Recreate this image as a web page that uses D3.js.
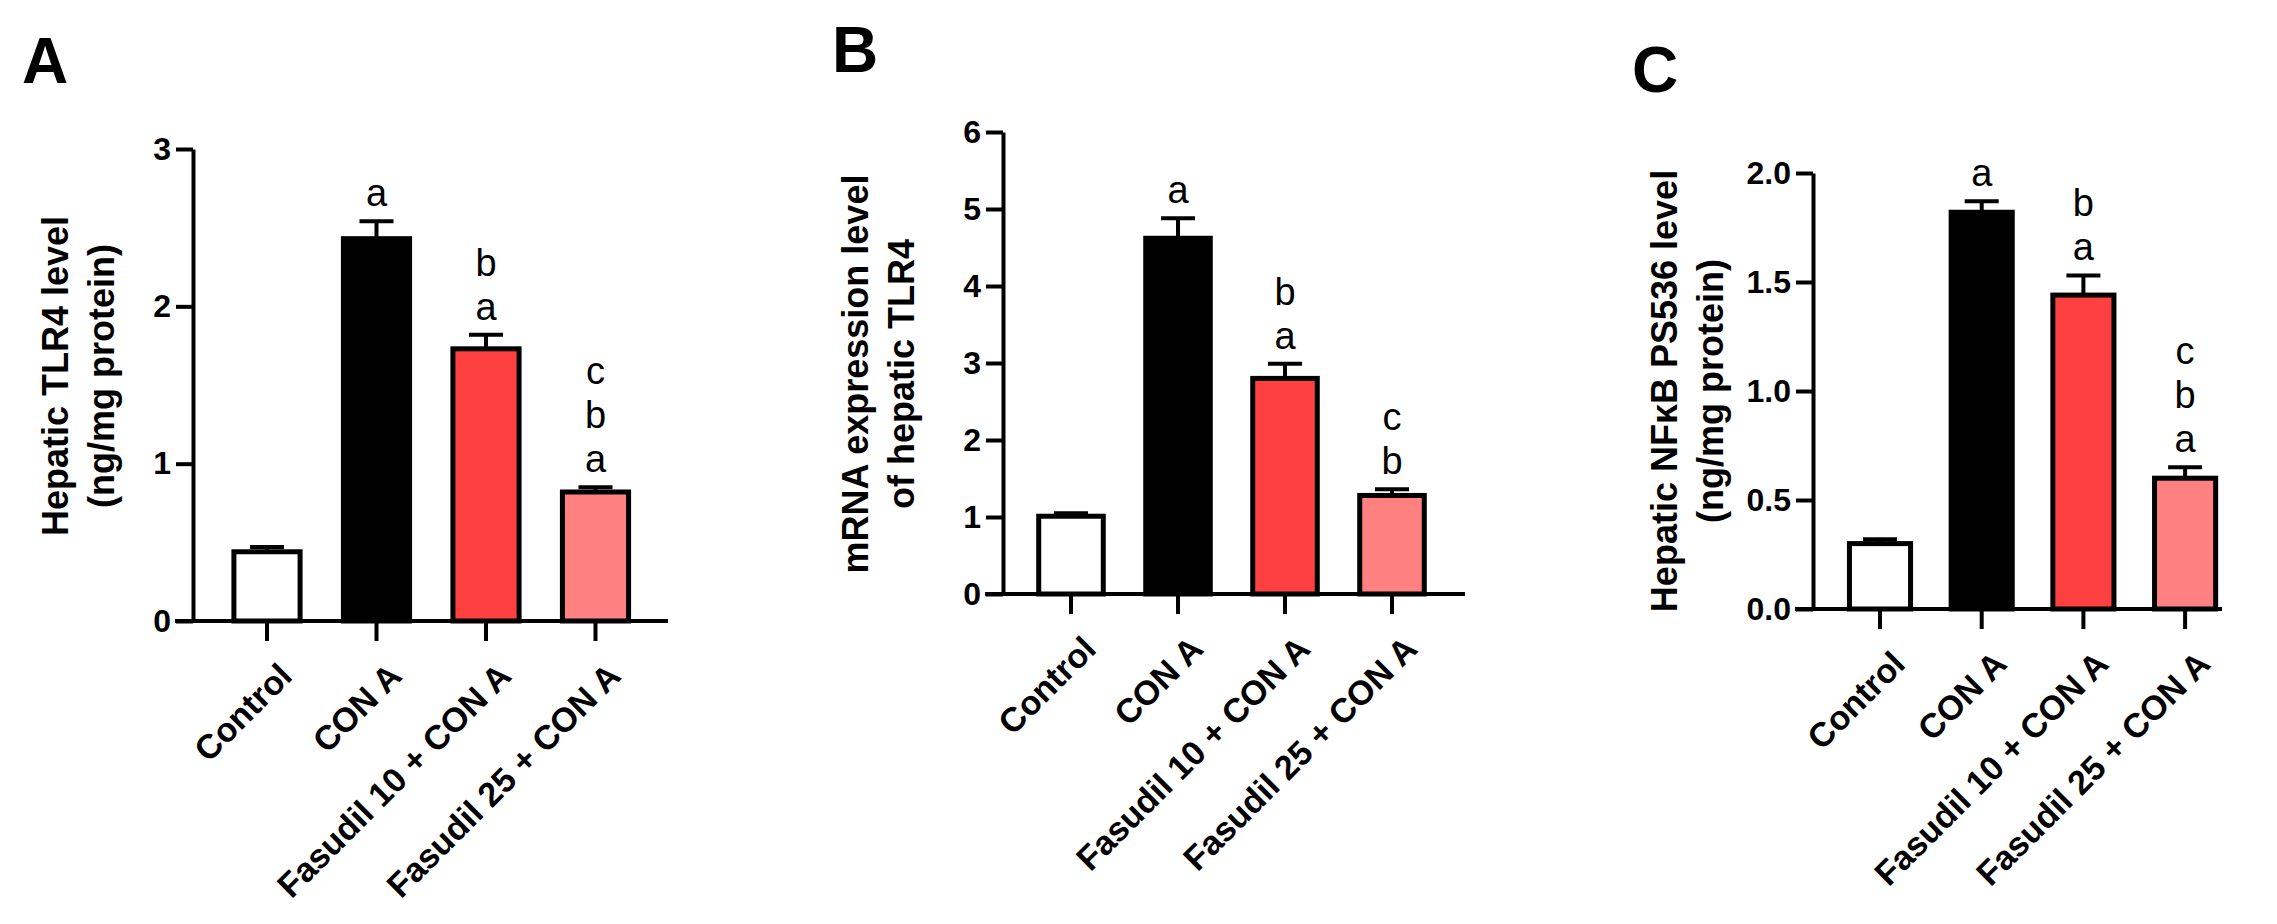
<!DOCTYPE html>
<html>
<head>
<meta charset="utf-8">
<script src="https://cdn.jsdelivr.net/npm/d3@7"></script>
<style>
  body { margin: 0; background: #fff; }
  svg { display: block; }
</style>
</head>
<body>
<div id="figure"></div>
<script>
// groups and colours shared by the three panels
const groups = ["Control", "CON A", "Fasudil 10 + CON A", "Fasudil 25 + CON A"];
const fills = ["#ffffff", "#000000", "#ff4040", "#ff8080"];

// A - hepatic TLR4 protein
const tlr4Means = [0.44, 2.43, 1.73, 0.82];
const tlr4Sem = [0.03, 0.11, 0.09, 0.03];
const tlr4Letters = [[], ["a"], ["a", "b"], ["a", "b", "c"]];
const tlr4Ticks = [0, 1, 2, 3];

// B - TLR4 mRNA
const mrnaMeans = [1.01, 4.62, 2.80, 1.28];
const mrnaSem = [0.04, 0.26, 0.19, 0.08];
const mrnaLetters = [[], ["a"], ["a", "b"], ["b", "c"]];
const mrnaTicks = [0, 1, 2, 3, 4, 5, 6];

// C - NFkB PS536
const nfkbMeans = [0.30, 1.82, 1.44, 0.60];
const nfkbSem = [0.02, 0.05, 0.09, 0.05];
const nfkbLetters = [[], ["a"], ["a", "b"], ["a", "b", "c"]];
const nfkbTicks = [0, 0.5, 1.0, 1.5, 2.0];

const width = 2277, height = 924;
const tickFont = "'Liberation Sans', Arial, sans-serif";
const letterFont = "'Liberation Sans Narrow', 'Arial Narrow', 'Liberation Sans', Arial, sans-serif";
const labelFont = "'Liberation Sans', Arial, sans-serif";

const svg = d3.select("#figure")
  .append("svg")
  .attr("width", width)
  .attr("height", height)
  .style("background", "#fff");

function drawPanel(p) {
  const g = svg.append("g");

  const y = d3.scaleLinear()
    .domain([0, d3.max(p.ticks)])
    .range([p.y0, p.yTop]);

  const x = d3.scaleBand()
    .domain(groups)
    .range([p.firstCenter - p.step / 2, p.firstCenter + p.step * 3.5])
    .paddingInner(0.35)
    .paddingOuter(0.175);

  // panel letter
  g.append("text")
    .attr("x", p.letterX)
    .attr("y", p.letterY)
    .style("font-family", labelFont)
    .style("font-weight", "bold")
    .style("font-size", "64px")
    .text(p.letter);

  // y title, two lines
  p.title.forEach(function(line, i) {
    g.append("text")
      .attr("transform", `translate(${p.titleX + i * 46}, ${p.titleMid}) rotate(-90)`)
      .attr("text-anchor", "middle")
      .style("font-family", labelFont)
      .style("font-weight", "bold")
      .style("font-size", "36px")
      .text(line);
  });

  // bars
  const data = groups.map(function(d, i) {
    return {group: d, mean: p.means[i], sem: p.sem[i], fill: fills[i], letters: p.letters[i]};
  });

  const sw = 5;
  g.selectAll(".bar")
    .data(data)
    .enter()
    .append("rect")
    .attr("x", function(d) { return x(d.group) + sw / 2; })
    .attr("width", x.bandwidth() - sw)
    .attr("y", function(d) { return y(d.mean); })
    .attr("height", function(d) { return y(0) - y(d.mean); })
    .style("fill", function(d) { return d.fill; })
    .style("stroke", "#000")
    .style("stroke-width", sw);

  // error bars (upper only)
  const cx = function(d) { return x(d.group) + x.bandwidth() / 2; };
  g.selectAll(".err")
    .data(data)
    .enter()
    .append("line")
    .attr("x1", cx)
    .attr("x2", cx)
    .attr("y1", function(d) { return y(d.mean); })
    .attr("y2", function(d) { return y(d.mean + d.sem); })
    .style("stroke", "#000")
    .style("stroke-width", 4);

  g.selectAll(".cap")
    .data(data)
    .enter()
    .append("line")
    .attr("x1", function(d) { return cx(d) - 17; })
    .attr("x2", function(d) { return cx(d) + 17; })
    .attr("y1", function(d) { return y(d.mean + d.sem); })
    .attr("y2", function(d) { return y(d.mean + d.sem); })
    .style("stroke", "#000")
    .style("stroke-width", 4);

  // significance letters, stacked from the bottom
  data.forEach(function(d) {
    d.letters.forEach(function(l, j) {
      g.append("text")
        .attr("x", cx(d))
        .attr("y", y(d.mean + d.sem) - 15 - j * 44)
        .attr("text-anchor", "middle")
        .style("font-family", letterFont)
        .style("font-size", "38px")
        .text(l);
    });
  });

  // y axis
  const yAxis = g.append("g")
    .attr("transform", `translate(${p.axisX}, 0)`)
    .call(d3.axisLeft(y).tickValues(p.ticks).tickSize(17).tickSizeOuter(0).tickPadding(5).tickFormat(d3.format(p.fmt)));

  yAxis.selectAll("path, line").style("stroke", "#000").style("stroke-width", 4);
  yAxis.selectAll("text")
    .style("font-family", tickFont)
    .style("font-weight", "bold")
    .style("font-size", "32px")
    .style("fill", "#000");

  // x axis, line runs a bit past the y axis like the original
  const xAxis = g.append("g")
    .attr("transform", `translate(0, ${p.y0})`)
    .call(d3.axisBottom(x).tickSize(20).tickSizeOuter(0));

  xAxis.select(".domain").remove();
  xAxis.append("line")
    .attr("x1", p.axisX - 18)
    .attr("x2", p.xEnd)
    .style("stroke", "#000")
    .style("stroke-width", 4);

  xAxis.selectAll(".tick line").style("stroke", "#000").style("stroke-width", 4);
  xAxis.selectAll(".tick text")
    .attr("x", 0)
    .attr("y", 0)
    .attr("dy", null)
    .attr("transform", "translate(27, 57) rotate(-45)")
    .attr("text-anchor", "end")
    .style("font-family", labelFont)
    .style("font-weight", "bold")
    .style("font-size", "34px")
    .style("fill", "#000");
}

drawPanel({
  letter: "A", letterX: 22, letterY: 83,
  title: ["Hepatic TLR4 level", "(ng/mg protein)"], titleX: 68, titleMid: 376,
  means: tlr4Means, sem: tlr4Sem, letters: tlr4Letters, ticks: tlr4Ticks, fmt: "d",
  axisX: 193, y0: 621, yTop: 149, firstCenter: 267, step: 109.5, xEnd: 668
});

drawPanel({
  letter: "B", letterX: 832, letterY: 72,
  title: ["mRNA expression level", "of hepatic TLR4"], titleX: 868, titleMid: 374,
  means: mrnaMeans, sem: mrnaSem, letters: mrnaLetters, ticks: mrnaTicks, fmt: "d",
  axisX: 1003, y0: 594, yTop: 132, firstCenter: 1071, step: 107, xEnd: 1465
});

drawPanel({
  letter: "C", letterX: 1632, letterY: 92,
  title: ["Hepatic NF\u03BAB PS536 level", "(ng/mg protein)"], titleX: 1677, titleMid: 391,
  means: nfkbMeans, sem: nfkbSem, letters: nfkbLetters, ticks: nfkbTicks, fmt: ".1f",
  axisX: 1813, y0: 609, yTop: 173, firstCenter: 1880, step: 101.7, xEnd: 2222
});
</script>
</body>
</html>
